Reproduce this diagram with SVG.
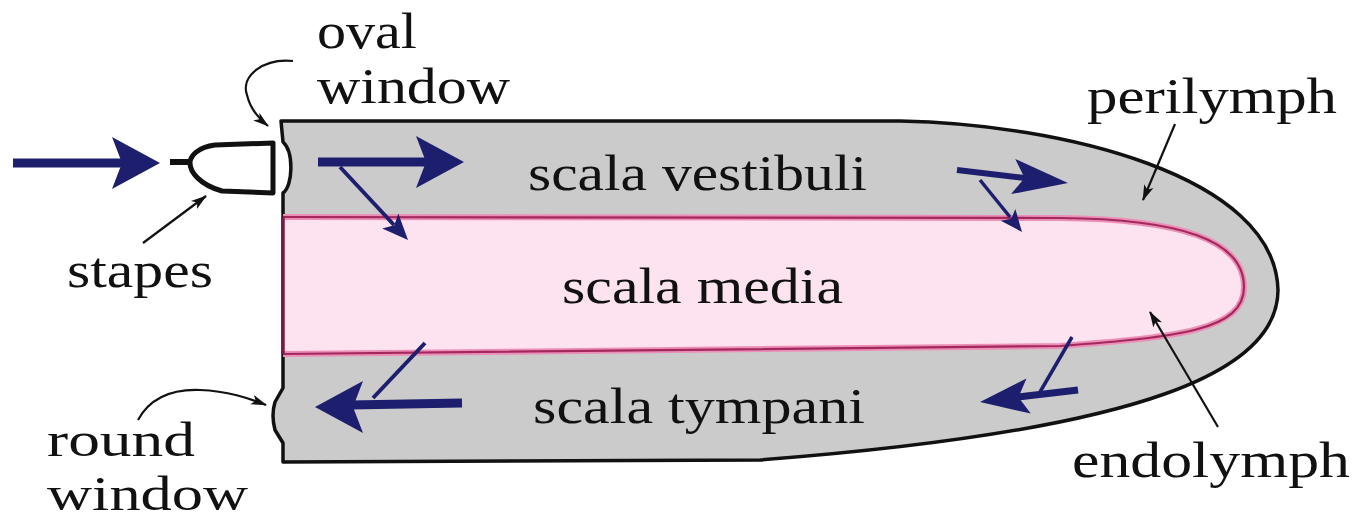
<svg xmlns="http://www.w3.org/2000/svg" xmlns:xlink="http://www.w3.org/1999/xlink" width="1357" height="521" viewBox="0 0 1357 521">
  <style>
    .lbl { font-family: "Liberation Serif", "Times New Roman", serif; font-size: 50px; fill: #111; }
    .lbl.sm { font-size: 48px; }
    .flow { stroke: #1e1e6e; fill: none; stroke-linecap: butt; }
    .head { fill: #1e1e6e; }
    .ptr { stroke: #111; stroke-width: 2.2; fill: none; }
  </style>
  <defs>
    <!-- notched arrowheads, tip at origin pointing along +x -->
    <path id="bh" d="M0,0 L-48,-26 L-38,0 L-48,26 Z"/>
    <path id="sh" d="M0,0 L-26,-11 L-20,0 L-26,11 Z"/>
    <marker id="tip" markerUnits="userSpaceOnUse" markerWidth="16" markerHeight="12" viewBox="0 0 16 12" refX="15" refY="6" orient="auto">
      <path d="M0,1 L16,6 L0,11 L4,6 Z" fill="#111"/>
    </marker>
  </defs>

  <!-- cochlea body: perilymph-filled outer duct -->
  <g id="cochlea">
    <path d="M281,121 L900,121 C1060,124 1275,175 1278,290 C1278,370 1150,430 760,460 L283,462 L283,443 L275,430 Q271,415 275,402 L283,388 L283,193 C293,186 294,152 283,142 L281,121 Z" fill="#cbcbcb" stroke="#111" stroke-width="3.5" stroke-linejoin="round"/>
  </g>

  <!-- scala media: endolymph-filled inner duct -->
  <g id="scala-media">
    <path d="M283,217 L1060,218 C1180,219 1244,240 1244,287 C1244,330 1180,337 1060,346 L283,354" fill="#fce3ef" stroke="#ec8fb8" stroke-width="6"/>
    <path d="M283,217 L1060,218 C1180,219 1244,240 1244,287 C1244,330 1180,337 1060,346 L283,354" fill="none" stroke="#a3285c" stroke-width="2.2"/>
    <line x1="283" y1="217" x2="283" y2="354" stroke="#7a1a45" stroke-width="3.5"/>
  </g>

  <!-- stapes -->
  <g id="stapes">
    <line x1="170" y1="162" x2="192" y2="162" stroke="#111" stroke-width="6"/>
    <path d="M273,143 L215,145 C198,147 190,156 190,163 C190,172 200,185 222,191 L273,193 Z" fill="#fff" stroke="#111" stroke-width="5" stroke-linejoin="round"/>
  </g>

  <!-- fluid flow arrows -->
  <g id="flow-arrows">
    <line class="flow" x1="13" y1="163" x2="128" y2="163" stroke-width="9"/>
    <use xlink:href="#bh" class="head" transform="translate(160,163)"/>

    <line class="flow" x1="318" y1="162" x2="432" y2="162" stroke-width="9"/>
    <use xlink:href="#bh" class="head" transform="translate(464,162)"/>

    <line class="flow" x1="340" y1="167" x2="394" y2="225" stroke-width="4"/>
    <use xlink:href="#sh" class="head" transform="translate(408,240) rotate(47)"/>

    <line class="flow" x1="957" y1="170" x2="1025" y2="178" stroke-width="6"/>
    <use xlink:href="#bh" class="head" transform="translate(1068,183) rotate(6.7) scale(1.15,0.68)"/>

    <line class="flow" x1="980" y1="180" x2="1010" y2="217" stroke-width="3.5"/>
    <use xlink:href="#sh" class="head" transform="translate(1022,232) rotate(51) scale(0.85,0.85)"/>

    <line class="flow" x1="462" y1="403" x2="350" y2="405" stroke-width="9"/>
    <use xlink:href="#bh" class="head" transform="translate(315,407) rotate(180)"/>
    <line class="flow" x1="425" y1="343" x2="373" y2="398" stroke-width="4"/>

    <line class="flow" x1="1078" y1="390" x2="1018" y2="397" stroke-width="7"/>
    <use xlink:href="#bh" class="head" transform="translate(980,402) rotate(173) scale(1.02,0.68)"/>
    <line class="flow" x1="1072" y1="337" x2="1040" y2="392" stroke-width="3.5"/>
  </g>

  <!-- label leader lines -->
  <g id="leaders">
    <path class="ptr" d="M293,61 C265,58 240,75 247,95 C250,108 258,118 268,126" marker-end="url(#tip)"/>
    <path class="ptr" d="M138,420 C150,398 172,389 200,390 C228,391 248,398 266,405" marker-end="url(#tip)"/>
    <line class="ptr" x1="143" y1="243" x2="206" y2="196" marker-end="url(#tip)"/>
    <line class="ptr" x1="1175" y1="124" x2="1143" y2="200" marker-end="url(#tip)"/>
    <line class="ptr" x1="1218" y1="427" x2="1150" y2="312" marker-end="url(#tip)"/>
  </g>

  <!-- labels -->
  <g id="labels">
    <text class="lbl" x="317" y="48" textLength="100" lengthAdjust="spacingAndGlyphs">oval</text>
    <text class="lbl" x="317" y="103" textLength="193" lengthAdjust="spacingAndGlyphs">window</text>
    <text class="lbl" x="1087" y="113" textLength="250" lengthAdjust="spacingAndGlyphs">perilymph</text>
    <text class="lbl" x="528" y="190" textLength="339" lengthAdjust="spacingAndGlyphs">scala vestibuli</text>
    <text class="lbl" x="562" y="303" textLength="281" lengthAdjust="spacingAndGlyphs">scala media</text>
    <text class="lbl" x="533" y="423" textLength="332" lengthAdjust="spacingAndGlyphs">scala tympani</text>
    <text class="lbl" x="67" y="287" textLength="146" lengthAdjust="spacingAndGlyphs">stapes</text>
    <text class="lbl sm" x="47" y="456" textLength="148" lengthAdjust="spacingAndGlyphs">round</text>
    <text class="lbl sm" x="47" y="510" textLength="201" lengthAdjust="spacingAndGlyphs">window</text>
    <text class="lbl" x="1072" y="477" textLength="278" lengthAdjust="spacingAndGlyphs">endolymph</text>
  </g>
</svg>
